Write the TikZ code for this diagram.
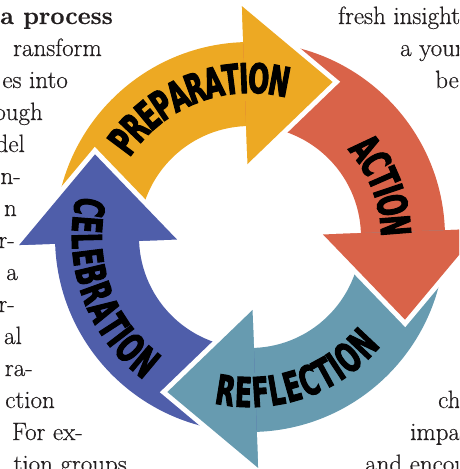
\documentclass[tikz,border=0pt]{standalone}
\usepackage{fontspec}
\usetikzlibrary{decorations.text}
\setmainfont{Latin Modern Roman}[FakeBold=0.5]
\newfontfamily\arrowfamily{DejaVu Sans}[FakeStretch=0.6, FakeBold=2.5]
\newcommand{\arrowtext}{\arrowfamily\bfseries\fontsize{41}{41}\selectfont}
\definecolor{prepcol}{RGB}{237,169,35}
\definecolor{actcol}{RGB}{217,99,73}
\definecolor{reflcol}{RGB}{103,155,176}
\definecolor{celcol}{RGB}{79,94,170}
\definecolor{textcol}{RGB}{35,31,32}
\newcommand{\cyclebody}[2]{%
  \begin{scope}[shift={(250,-237)}, rotate=#1]
    \fill[#2] (180:195) arc[start angle=180, end angle=90, radius=195]
      -- (90:231) -- (88,152) -- (90:73) -- (90:111)
      arc[start angle=90, end angle=180, radius=111] -- cycle;
  \end{scope}}
\newcommand{\cyclehead}[2]{%
  \begin{scope}[shift={(250,-237)}, rotate=#1]
    \draw[white, line width=10pt, line join=miter] (90:73) -- (88,152) -- (90:231);
    \fill[#2] (90:73) -- (88,152) -- (90:231) -- cycle;
  \end{scope}}
\tikzset{
  lefttext/.style={font=\fontsize{25}{30}\selectfont, text=textcol, inner sep=0pt, anchor=base east},
  righttext/.style={font=\fontsize{25}{30}\selectfont, text=textcol, inner sep=0pt, anchor=base west},
  cyclelabel/.style={decorate, decoration={text along path, text align=center, raise=-15pt}}
}
\begin{document}
\begin{tikzpicture}[x=1pt, y=1pt]
\useasboundingbox (0,0) rectangle (459,-469);
\clip (0,0) rectangle (459,-469);
% arrows
\cyclebody{2}{prepcol}
\cyclebody{-88}{actcol}
\cyclebody{182}{reflcol}
\cyclebody{92}{celcol}
\cyclehead{2}{prepcol}
\cyclehead{-88}{actcol}
\cyclehead{182}{reflcol}
\cyclehead{92}{celcol}
% labels
\begin{scope}[shift={(250,-237)}]
  \path[cyclelabel, decoration={text={|\arrowtext|PREPARATION}}]
    (156:159) arc[start angle=156, end angle=66, radius=159];
  \path[cyclelabel, decoration={text={|\arrowtext|ACTION}}]
    (61:146) arc[start angle=61, end angle=-19, radius=146];
  \path[cyclelabel, decoration={text={|\arrowtext|REFLECTION}}]
    (244:155) arc[start angle=244, end angle=334, radius=155];
  \path[cyclelabel, decoration={text={|\arrowtext|CELEBRATION}}]
    (155:163) arc[start angle=155, end angle=245, radius=163];
\end{scope}
% surrounding body text, left column
\node[lefttext, font=\fontsize{25}{30}\selectfont\bfseries] (l0) at (113,-24) {s a process};
\node[lefttext] (l1) at (102,-56) {ransform};
\node[lefttext] (l2) at (68,-88) {es into};
\node[lefttext] (l3) at (43,-120) {ough};
\node[lefttext] (l4) at (25,-152) {del};
\node[lefttext] (l5) at (21,-184) {n-};
\node[lefttext] (l6) at (17,-216) {n};
\node[lefttext] (l7) at (15,-248) {r-};
\node[lefttext] (l8) at (18,-280) {a};
\node[lefttext] (l9) at (15,-312) {r-};
\node[lefttext] (l10) at (22,-344) {al};
\node[lefttext] (l11) at (33,-376) {ra-};
\node[lefttext] (l12) at (55,-408) {ction};
\node[lefttext] (l13) at (83,-440) {For ex-};
\node[lefttext] (l14) at (127,-472) {tion groups};
% right column
\node[righttext] (r0) at (338,-24) {fresh insights};
\node[righttext] (r1) at (400,-56) {a young};
\node[righttext] (r2) at (435,-88) {be};
\node[righttext] (r12) at (438,-408) {ch};
\node[righttext] (r13) at (410,-440) {impa};
\node[righttext] (r14) at (365,-472) {and encou};
\end{tikzpicture}
\end{document}
